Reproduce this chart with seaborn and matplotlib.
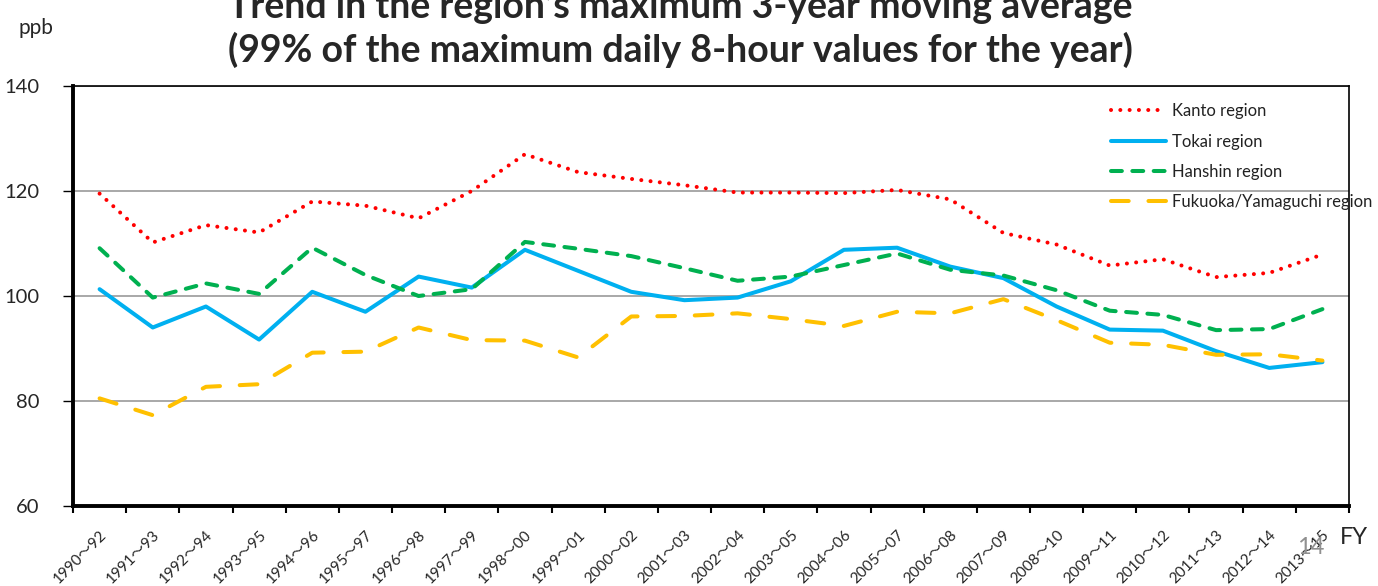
import matplotlib
matplotlib.use("Agg")
import matplotlib.pyplot as plt
import seaborn as sns
import pandas as pd
from matplotlib.ticker import FixedLocator

periods = ["1990～92", "1991～93", "1992～94", "1993～95", "1994～96", "1995～97",
           "1996～98", "1997～99", "1998～00", "1999～01", "2000～02", "2001～03",
           "2002～04", "2003～05", "2004～06", "2005～07", "2006～08", "2007～09",
           "2008～10", "2009～11", "2010～12", "2011～13", "2012～14", "2013～15"]

kanto = [119.5, 110.2, 113.5, 112.1, 118.0, 117.2, 114.8, 120.0, 127.0, 123.6,
         122.3, 121.1, 119.7, 119.7, 119.6, 120.2, 118.4, 112.0, 109.8, 105.8,
         107.0, 103.6, 104.4, 107.9]
tokai = [101.3, 94.0, 98.0, 91.7, 100.8, 97.0, 103.7, 101.6, 108.8, 104.8,
         100.8, 99.2, 99.7, 102.8, 108.8, 109.2, 105.6, 103.4, 98.0, 93.6,
         93.4, 89.5, 86.3, 87.4]
hanshin = [109.1, 99.7, 102.4, 100.4, 109.2, 104.0, 100.0, 101.3, 110.3, 109.0,
           107.6, 105.3, 102.9, 103.7, 105.9, 108.1, 105.0, 103.9, 101.1, 97.2,
           96.4, 93.5, 93.7, 97.5]
fukuoka = [80.5, 77.3, 82.7, 83.2, 89.2, 89.4, 94.0, 91.6, 91.5, 88.3,
           96.1, 96.2, 96.7, 95.6, 94.3, 97.0, 96.7, 99.4, 95.4, 91.1,
           90.7, 88.8, 88.9, 87.7]

series_names = ["Kanto region", "Tokai region", "Hanshin region", "Fukuoka/Yamaguchi region"]
series_values = [kanto, tokai, hanshin, fukuoka]
colors = ["#FF0000", "#00B0F0", "#00B050", "#FFC000"]
styles = [(0, (0.01, 2.3)), "solid", (0, (2.7, 2.6)), (0, (4.4, 4.9))]

yticks = [60, 80, 100, 120, 140]

title_line1 = "Trend in the region\u2019s maximum 3-year moving average"
title_line2 = "(99% of the maximum daily 8-hour values for the year)"

sns.set_style("white")
plt.rcParams["font.family"] = ["Lato", "Noto Sans CJK JP", "DejaVu Sans"]

fig = plt.figure(figsize=(13.78, 5.86), dpi=100)
ax = fig.add_axes([73 / 1378, 1 - 506 / 586, (1349 - 73) / 1378, (506 - 86) / 586])

for name, vals, c, ls in zip(series_names, series_values, colors, styles):
    df = pd.DataFrame({"period": periods, "value": vals})
    sns.lineplot(data=df, x="period", y="value", ax=ax, color=c, linewidth=2.9,
                 linestyle=ls, sort=False, label=name,
                 dash_capstyle="round", solid_capstyle="round")

ax.set_xlim(-0.5, len(periods) - 0.5)
ax.set_ylim(60, 140)
ax.set_yticks(yticks)
ax.set_yticklabels([str(t) for t in yticks], fontsize=14.5)
ax.yaxis.grid(True, color="#999999", linewidth=1.2)
ax.set_axisbelow(True)

ax.set_xticks(range(len(periods)))
ax.set_xticklabels(periods, rotation=45, ha="right", rotation_mode="anchor", fontsize=11)
ax.xaxis.set_minor_locator(FixedLocator([i - 0.5 for i in range(len(periods) + 1)]))
ax.tick_params(axis="x", which="major", length=0, pad=16)
ax.tick_params(axis="x", which="minor", length=5, width=1.5, direction="out", color="black", bottom=True)
ax.tick_params(axis="y", which="major", length=7, width=1, direction="out", color="black", left=True, pad=17)

ax.set_xlabel("")
ax.set_ylabel("")

for side in ["top", "right"]:
    ax.spines[side].set_visible(True)
    ax.spines[side].set_color("black")
    ax.spines[side].set_linewidth(1.2)
for side in ["left", "bottom"]:
    ax.spines[side].set_color("black")
    ax.spines[side].set_linewidth(2.8)

leg = ax.legend(loc="upper left", bbox_to_anchor=(1103 / 1378, 1 - 95 / 586),
                bbox_transform=fig.transFigure, frameon=False, fontsize=12,
                handlelength=3.3, handletextpad=0.35, labelspacing=0.85, borderpad=0)
for t in leg.get_texts():
    t.set_color("#222222")

fig.text(680 / 1378, 1 - 6 / 586, title_line1,
         ha="center", va="center", fontsize=27, fontweight="bold")
fig.text(680 / 1378, 1 - 50 / 586, title_line2,
         ha="center", va="center", fontsize=27, fontweight="bold")
fig.text(18 / 1378, 1 - 28 / 586, "ppb", ha="left", va="center", fontsize=15)
fig.text(1340 / 1378, 1 - 537 / 586, "FY", ha="left", va="center", fontsize=17)
fig.text(1311 / 1378, 1 - 547 / 586, "14", ha="center", va="center", fontsize=17, color="#909090")

fig.savefig("out.png", dpi=100)
